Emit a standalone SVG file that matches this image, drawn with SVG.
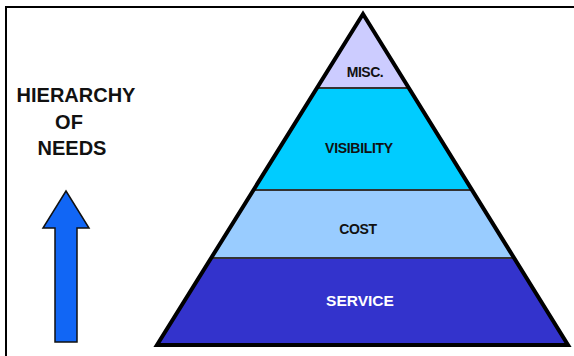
<svg xmlns="http://www.w3.org/2000/svg" width="574" height="356" viewBox="0 0 574 356">
  <style>
    .lbl { font-family: "Liberation Sans", Arial, sans-serif; font-weight: bold; text-anchor: middle; }
    .band { stroke: none; }
    .sep { stroke: #333333; stroke-width: 2; }
    .outline { fill: none; stroke: #000000; stroke-width: 4; stroke-linejoin: miter; }
  </style>
  <rect x="0" y="0" width="574" height="356" fill="#ffffff"/>
  <g id="frame">
    <line x1="5" y1="7" x2="574" y2="7" stroke="#000" stroke-width="2"/>
    <line x1="6" y1="6" x2="6" y2="356" stroke="#000" stroke-width="2"/>
  </g>
  <g id="title">
    <text class="lbl" x="76" y="102" font-size="20" fill="#111">HIERARCHY</text>
    <text class="lbl" x="69" y="129" font-size="20" fill="#111">OF</text>
    <text class="lbl" x="72" y="155" font-size="20" fill="#111">NEEDS</text>
  </g>
  <g id="arrow">
    <polygon points="66,191 89,228 77,228 77,342 55,342 55,228 43,228" fill="#1166f5" stroke="#111" stroke-width="1.5" stroke-linejoin="miter"/>
  </g>
  <g id="service">
    <polygon class="band" points="211.1,258 514.1,258 568,345 157,345" fill="#3333cc"/>
    <text class="lbl" x="360" y="306" font-size="15.5" fill="#ffffff">SERVICE</text>
  </g>
  <g id="cost">
    <polygon class="band" points="253.5,190 472,190 514.1,258 211.1,258" fill="#99ccff"/>
    <text class="lbl" x="358" y="234" font-size="14" fill="#111" letter-spacing="-0.3">COST</text>
  </g>
  <g id="visibility">
    <polygon class="band" points="316.9,88 408.8,88 472,190 253.5,190" fill="#00ccff"/>
    <text class="lbl" x="359" y="153" font-size="14" fill="#111" letter-spacing="-0.3">VISIBILITY</text>
  </g>
  <g id="misc">
    <polygon class="band" points="363,14 408.8,88 316.9,88" fill="#ccccff"/>
    <text class="lbl" x="365" y="77" font-size="14" fill="#111" letter-spacing="-0.5">MISC.</text>
  </g>
  <g id="connectors">
    <line class="sep" x1="316.9" y1="88" x2="408.8" y2="88"/>
    <line class="sep" x1="253.5" y1="190" x2="472" y2="190"/>
    <line class="sep" x1="211.1" y1="258" x2="514.1" y2="258"/>
  </g>
  <g id="pyramid-outline">
    <polygon class="outline" points="363,14 568,345 157,345"/>
  </g>
</svg>
